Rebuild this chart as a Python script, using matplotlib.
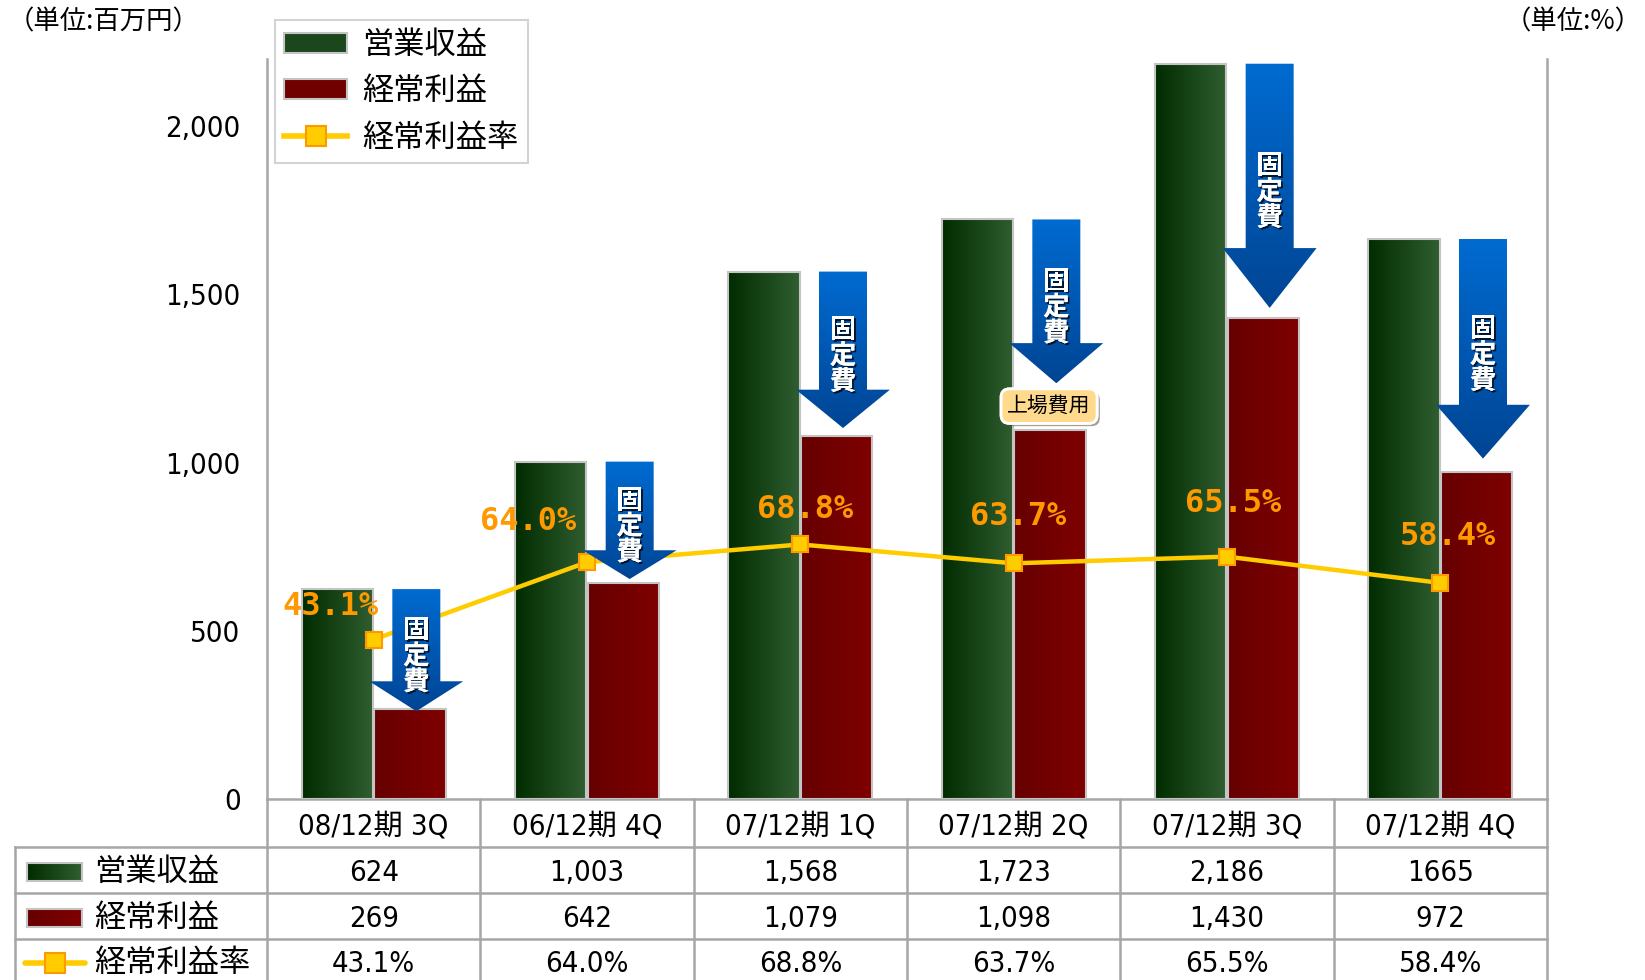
import numpy as np
import matplotlib
matplotlib.use('Agg')
import matplotlib.pyplot as plt
import matplotlib.patheffects as pe
from matplotlib.patches import FancyArrow, Rectangle, Patch
from matplotlib.lines import Line2D

plt.rcParams['font.family'] = ['Noto Sans CJK JP', 'DejaVu Sans']
NUM_FONT = ['DejaVu Sans', 'Noto Sans CJK JP']
NUM_STRETCH = 'condensed'

#### data ####
categories = ['08/12期 3Q', '06/12期 4Q', '07/12期 1Q', '07/12期 2Q', '07/12期 3Q', '07/12期 4Q']
revenue = [624, 1003, 1568, 1723, 2186, 1665]          # 営業収益
ord_profit = [269, 642, 1079, 1098, 1430, 972]         # 経常利益
margin = [43.1, 64.0, 68.8, 63.7, 65.5, 58.4]          # 経常利益率 (%)
revenue_txt = ['624', '1,003', '1,568', '1,723', '2,186', '1665']
profit_txt = ['269', '642', '1,079', '1,098', '1,430', '972']
margin_txt = ['43.1%', '64.0%', '68.8%', '63.7%', '65.5%', '58.4%']
ytick_vals = [0, 500, 1000, 1500, 2000]
ytick_txt = ['0', '500', '1,000', '1,500', '2,000']
series_names = ['営業収益', '経常利益', '経常利益率']

#### layout (pixels) ####
W, H = 1645, 980
AX_L, AX_R, AX_T, AX_B = 267, 1547, 59, 799
YMAX, PMAX = 2200, 200
k = PMAX / YMAX

GREEN0, GREEN1 = (0.0, 0.17, 0.0), (0.19, 0.37, 0.19)
RED0, RED1 = (0.40, 0.0, 0.0), (0.50, 0.0, 0.0)
BLUE0, BLUE1 = (0.0, 0.42, 0.82), (0.0, 0.27, 0.58)
GRID = '#a6a6a6'


def grad_fill(axis, patch, c0, c1, extent, vertical=False, z=2):
    t = np.linspace(0, 1, 256)[:, None]
    cols = (1 - t) * np.array(c0) + t * np.array(c1)
    img = cols[:, None, :] if vertical else cols[None, :, :]
    im = axis.imshow(img, extent=extent, aspect='auto', origin='upper',
                     interpolation='bilinear', zorder=z)
    im.set_clip_path(patch)
    return im


fig = plt.figure(figsize=(W / 100, H / 100), dpi=100)
ax = fig.add_axes([AX_L / W, 1 - AX_B / H, (AX_R - AX_L) / W, (AX_B - AX_T) / H])
x = np.arange(len(categories))
bw = 0.335

# bars with horizontal gradient
gb = ax.bar(x - 0.17, revenue, width=bw, facecolor='none', edgecolor='#c4c4c4', linewidth=1.5, zorder=3)
rb = ax.bar(x + 0.17, ord_profit, width=bw, facecolor='none', edgecolor='#c4c4c4', linewidth=1.5, zorder=3)
for b in gb:
    grad_fill(ax, b, GREEN0, GREEN1, (b.get_x(), b.get_x() + b.get_width(), 0, b.get_height()))
for b in rb:
    grad_fill(ax, b, RED0, RED1, (b.get_x(), b.get_x() + b.get_width(), 0, b.get_height()))

ax.set_xlim(-0.5, 5.5)
ax.set_ylim(0, YMAX)
ax.set_xticks([])
ax.set_yticks(ytick_vals)
ax.set_yticklabels(ytick_txt, fontsize=21, family=NUM_FONT, stretch=NUM_STRETCH)
ax.tick_params(axis='y', length=0, pad=19)
for s in ['left', 'right', 'bottom']:
    ax.spines[s].set_color(GRID)
    ax.spines[s].set_linewidth(1.8)
ax.spines['top'].set_visible(False)

# secondary axis (%)
ax2 = ax.twinx()
ax2.set_ylim(0, PMAX)
ax2.set_yticks([])
ax2.set_xlim(-0.5, 5.5)
for s in ax2.spines.values():
    s.set_visible(False)
ax2.plot(x, margin, color='#FFCC00', lw=3.2, marker='s', ms=12, mfc='#FFCC00',
         mec='#FF9900', mew=1.5, zorder=4)

# 固定費 arrows
tip_gap = [-8, 12, 24, 138, 30, 40]
for i in range(len(categories)):
    top = revenue[i] * k
    tip = (ord_profit[i] + tip_gap[i]) * k
    L = top - tip
    xc = i + 0.2
    arr = FancyArrow(xc, top, 0, -L, width=0.225, head_width=0.44, head_length=0.245 * L,
                     length_includes_head=True, facecolor='none', edgecolor='none', zorder=5)
    ax2.add_patch(arr)
    grad_fill(ax2, arr, BLUE0, BLUE1, (xc - 0.25, xc + 0.25, tip, top), vertical=True, z=5)
    ax2.text(xc, (top + tip) / 2 - 1.7, '固\n定\n費', ha='center', va='center', color='white',
             fontsize=19, fontweight='bold', linespacing=0.95, zorder=6,
             path_effects=[pe.withSimplePatchShadow(offset=(1.3, -1.3), shadow_rgbFace='k', alpha=0.75),
                           pe.Normal()])

# 上場費用 label
lab = ax2.text(3.166, (ord_profit[3] + 70) * k, '上場費用', ha='center', va='center', fontsize=15,
               color='black', zorder=7,
               bbox=dict(boxstyle='round,pad=0.3,rounding_size=0.4', fc='#FFD98C', ec='white', lw=2))
lab.get_bbox_patch().set_path_effects([pe.withSimplePatchShadow(offset=(2, -2), alpha=0.5), pe.Normal()])

# percentage labels
lab_off = [(-43, 33), (-59, 41), (5, 35), (4, 47), (6, 53), (8, 46)]
for i, t in enumerate(margin_txt):
    ax2.annotate(t, (x[i], margin[i]), xytext=lab_off[i], textcoords='offset pixels',
                 ha='center', va='center', color='#FF9900', fontsize=23, fontweight='bold',
                 family=['DejaVu Sans Mono'], zorder=6)

ax.set_ylim(0, YMAX)
ax2.set_ylim(0, PMAX)
ax.set_xlim(-0.5, 5.5)
ax2.set_xlim(-0.5, 5.5)

# legend
handles = [Patch(facecolor='#1c461c', edgecolor='#c4c4c4', lw=1.5),
           Patch(facecolor='#700000', edgecolor='#c4c4c4', lw=1.5),
           Line2D([], [], color='#FFCC00', lw=4, marker='s', ms=14, mfc='#FFCC00', mec='#FF9900', mew=1.5)]
leg = fig.legend(handles, series_names, loc='upper left', bbox_to_anchor=(275 / W, 1 - 20 / H),
                 frameon=True, fancybox=False, edgecolor='#c8c8c8', fontsize=22.5, handlelength=2.0,
                 handleheight=0.6, labelspacing=0.45, borderpad=0.3, handletextpad=0.5, borderaxespad=0)
leg.get_frame().set_linewidth(1.5)

# units
fig.text(8 / W, 1 - 22 / H, '（単位:百万円）', fontsize=19, ha='left', va='center')
fig.text(1642 / W, 1 - 22 / H, '（単位:%）', fontsize=19, ha='right', va='center')

#### table under the chart ####
tb = fig.add_axes([0, 0, 1, 1])
tb.set_xlim(0, W)
tb.set_ylim(H, 0)
tb.axis('off')
TL = 15
xs = [AX_L + (AX_R - AX_L) * j / 6 for j in range(7)]
ys = [AX_B, 847, 893, 939, 990]
for yy in ys[1:4]:
    tb.plot([TL, AX_R], [yy, yy], color=GRID, lw=1.8)
tb.plot([TL, TL], [ys[1], ys[4]], color=GRID, lw=1.8)
for xx in xs:
    tb.plot([xx, xx], [ys[0], ys[4]], color=GRID, lw=1.8)

cx = [(xs[j] + xs[j + 1]) / 2 for j in range(6)]
tkw = dict(ha='center', va='center', fontsize=21, family=NUM_FONT, stretch=NUM_STRETCH)
for j in range(6):
    tb.text(cx[j], (ys[0] + ys[1]) / 2 + 3, categories[j], **tkw)
    tb.text(cx[j], (ys[1] + ys[2]) / 2 + 3, revenue_txt[j], **tkw)
    tb.text(cx[j], (ys[2] + ys[3]) / 2 + 3, profit_txt[j], **tkw)
    tb.text(cx[j], (ys[3] + ys[4]) / 2 - 1, margin_txt[j], **tkw)

# row labels with swatches
for r, (c0, c1) in enumerate([(GREEN0, GREEN1), (RED0, RED1)]):
    yc = (ys[r + 1] + ys[r + 2]) / 2 + 2
    sw = Rectangle((27, yc - 9), 55, 18, facecolor='none', edgecolor='#c4c4c4', lw=1.5, zorder=3)
    tb.add_patch(sw)
    grad_fill(tb, sw, c0, c1, (27, 82, yc + 9, yc - 9))
    tb.text(94, yc, series_names[r], ha='left', va='center', fontsize=22.5)
yc = (ys[3] + ys[4]) / 2 - 2
tb.plot([25, 85], [yc, yc], color='#FFCC00', lw=4, solid_capstyle='round')
tb.plot([55], [yc], marker='s', ms=14, mfc='#FFCC00', mec='#FF9900', mew=1.5)
tb.text(94, yc, series_names[2], ha='left', va='center', fontsize=22.5)
tb.set_xlim(0, W)
tb.set_ylim(H, 0)

fig.savefig('out.png', dpi=100)
